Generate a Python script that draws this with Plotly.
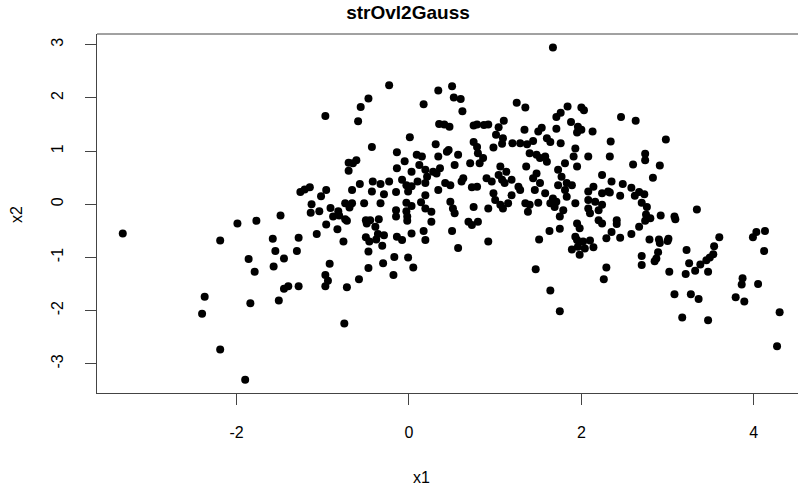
import plotly.graph_objects as go

# Sample coordinates of the two-cluster Gaussian overlap data
x1 = [
    -0.23, -0.47, -0.56, 0.17, -0.97, -0.59, 0.01, -0.43, -0.14,
    1.67, 0.34, 0.50, 0.52, 0.60, 0.62, 1.25, 1.35, 0.35, 0.41, 0.47, 0.75, 0.79, 0.87, 0.92,
    1.04, 1.10, 1.01, 1.09, 1.08, 0.98, 0.31, 0.46, 0.75, 0.79, 1.20, 1.29, 1.37, 1.44, 1.34,
    1.50, 1.54, 1.60, 1.64, 1.71, 1.71, 1.76, 1.84, 1.88, 1.96, 1.95, 2.00, 2.00, 2.03, 2.13,
    1.76, 1.93, 2.34,
    2.46, 2.63, 2.98,
    -3.32, -2.19, -1.99, -1.86,
    0.09, 0.15, -0.70, -0.61, -0.65, -0.70, -0.14, -0.05, 0.12, 0.03, 0.19, 0.21, -1.15, -1.21,
    -1.26, -0.96, -1.02, -0.57, -0.66, -0.42, -0.33, -0.23, -0.43, -0.29, -0.15, -0.08, -0.03,
    0.03, -0.01, 0.10, 0.19, 0.19, -1.13, -1.14, -1.04, -0.91, -0.82, -0.81, -0.74, -0.66,
    -0.69, -0.52, -0.33, -0.15, -0.15, -0.03, -0.03, 0.03, 0.14, 0.19, -0.88, -0.74, -0.72,
    -0.96, -0.83, -1.07, -0.76, -1.77, -1.49, -1.58, -1.28, -1.55, -1.30, -1.45, -1.57, -0.92,
    -0.50, -0.45, -0.35, -0.49, -0.39, -0.50, -0.46, -0.47, -0.36, -0.29, -0.38, -0.31, -0.14,
    -0.08, -0.02, -0.02, 0.03, 0.17, 0.19, -0.17, -0.01, -0.30, -0.47, 0.05,
    0.44, 0.34, 0.57, 0.80, 0.86, 0.82, 0.71, 0.53, 0.36, 0.28, 0.32, 0.42, 0.48, 0.34, 0.63,
    0.61, 0.73, 0.79, 0.90, 0.96, 1.06, 1.13, 1.04, 1.08, 1.19, 1.11, 0.98, 1.00, 1.06, 1.09,
    1.15, 1.19, 1.27, 1.29, 0.48, 0.51, 0.53, 0.75, 0.92, 0.26, 0.26, 0.69, 0.73, 0.80, 0.50,
    0.92, 0.57, 1.40, 1.48, 1.52, 1.58, 1.60, 1.36, 1.48, 1.44, 1.52, 1.46, 1.58, 1.67, 1.64,
    1.71, 1.69, 1.79, 1.75, 1.35, 1.40, 1.38, 1.50, 1.81, 1.95, 1.91, 2.08, 1.73, 1.77, 1.73,
    1.83, 1.89, 1.81, 1.83, 1.93, 2.24, 2.14, 2.08, 2.24, 2.31, 2.08, 2.16, 2.24, 2.08, 2.10,
    2.20, 2.20, 2.24, 1.95, 1.98, 2.29, 1.75, 1.63, 1.51, 1.93, 1.95, 2.02, 2.10, 1.96, 1.89,
    2.04, 2.14, 1.98, 2.29, 1.47,
    2.33, 2.74, 2.74, 2.60, 2.91, 2.83, 2.35, 2.48, 2.58, 2.67, 2.73, 2.62, 2.45, 2.33, 2.70,
    2.76, 3.34, 2.75, 2.80, 2.74, 2.92, 3.08, 3.09, 2.41, 2.41, 2.67, 2.35, 2.58, 2.45, 2.79,
    2.90, 2.91, 3.01, 3.00, 3.60, 4.03, 3.99, 4.13, 4.12, 3.22, 3.54, 3.53, 3.49, 3.45, 2.70,
    2.89, 2.87, 2.85, 2.70, 3.25, 3.38,
    3.02, 3.21, 3.32, 3.47, 3.87, 3.86, 4.05, 3.08, 3.27, 3.36, 3.79, 3.89, 4.30, 3.17, 3.47,
    4.27,
    1.64, 1.75, 2.26,
    -1.79, -1.84, -1.51, -1.45, -1.40, -1.28, -0.97, -0.94, -0.97, -0.72, -0.58, -0.18, -0.75,
    -2.37, -2.40, -2.19, -1.90,
]

x2 = [
    2.24, 1.99, 1.83, 1.88, 1.66, 1.56, 1.26, 1.08, 0.98,
    2.95, 2.14, 2.22, 2.01, 1.98, 1.75, 1.91, 1.82, 1.51, 1.50, 1.46, 1.48, 1.50, 1.49, 1.50,
    1.45, 1.57, 1.31, 1.24, 1.14, 1.07, 1.13, 1.02, 1.17, 1.08, 1.15, 1.15, 1.13, 1.19, 1.40,
    1.37, 1.44, 1.24, 1.17, 1.42, 1.64, 1.72, 1.84, 1.55, 1.46, 1.35, 1.40, 1.82, 1.77, 1.37,
    1.15, 1.05, 1.18,
    1.64, 1.57, 1.22,
    -0.55, -0.68, -0.36, -1.03,
    0.93, 0.90, 0.78, 0.83, 0.77, 0.63, 0.68, 0.81, 0.74, 0.61, 0.65, 0.52, 0.32, 0.28,
    0.23, 0.27, 0.15, 0.38, 0.27, 0.43, 0.38, 0.43, 0.24, 0.19, 0.23, 0.46, 0.36,
    0.34, 0.24, 0.43, 0.40, 0.17, 0.00, -0.16, -0.13, -0.07, -0.13, -0.21, 0.02, 0.02,
    -0.06, 0.02, 0.02, -0.11, -0.23, 0.03, -0.13, -0.03, 0.04, -0.08, -0.23, -0.28, -0.31,
    -0.38, -0.47, -0.56, -0.70, -0.31, -0.21, -0.65, -0.63, -0.88, -0.88, -1.02, -1.17, -1.12,
    -0.30, -0.30, -0.28, -0.36, -0.42, -0.62, -0.70, -0.89, -0.56, -0.58, -0.66, -0.78, -0.61,
    -0.67, -0.23, -0.31, -0.55, -0.50, -0.67, -0.99, -1.00, -1.11, -1.20, -1.19,
    0.99, 0.90, 0.93, 0.96, 0.87, 0.77, 0.77, 0.74, 0.68, 0.61, 0.58, 0.40, 0.36, 0.27, 0.49,
    0.43, 0.32, 0.33, 0.49, 0.43, 0.71, 0.61, 0.55, 0.46, 0.46, 0.40, 0.21, 0.08, -0.01, -0.08,
    0.02, 0.17, 0.33, 0.27, 0.05, -0.08, -0.17, -0.05, -0.08, -0.14, -0.33, -0.33, -0.39, -0.33, -0.50,
    -0.70, -0.82, 0.96, 0.93, 0.87, 0.90, 0.80, 0.71, 0.58, 0.49, 0.40, 0.27, 0.21, 0.11, 0.02,
    0.05, -0.05, -0.11, -0.23, 0.02, -0.01, -0.14, 0.03, 0.77, 0.71, 0.90, 0.90, 0.65, 0.52, 0.36,
    0.40, 0.36, 0.27, 0.14, 0.02, 0.55, 0.33, 0.24, 0.21, 0.24, 0.08, 0.05, -0.01, -0.08, -0.17,
    -0.11, -0.30, -0.36, -0.36, -0.45, -0.64, -0.46, -0.50, -0.66, -0.61, -0.67, -0.70, -0.68, -0.80, -0.85,
    -0.83, -0.81, -0.95, -1.19, -1.22,
    0.90, 0.95, 0.83, 0.75, 0.73, 0.50, 0.43, 0.38, 0.31, 0.23, 0.19, 0.16, 0.16, 0.22, 0.03,
    -0.05, -0.10, -0.19, -0.26, -0.31, -0.21, -0.23, -0.28, -0.30, -0.37, -0.42, -0.52, -0.56, -0.63, -0.66,
    -0.66, -0.73, -0.65, -0.69, -0.62, -0.52, -0.62, -0.50, -0.88, -0.86, -0.79, -0.94, -1.00, -1.05, -0.97,
    -0.90, -1.02, -1.07, -1.14, -1.11, -1.13,
    -1.27, -1.31, -1.25, -1.27, -1.39, -1.51, -1.50, -1.69, -1.69, -1.78, -1.75, -1.83, -2.03, -2.13, -2.18,
    -2.67,
    -1.62, -2.01, -1.41,
    -1.27, -1.86, -1.81, -1.59, -1.54, -1.54, -1.33, -1.44, -1.54, -1.56, -1.41, -1.33, -2.24,
    -1.74, -2.06, -2.73, -3.30,
]

x_ticks = [-2, 0, 2, 4]
y_ticks = [-3, -2, -1, 0, 1, 2, 3]

FONT = "Liberation Sans, Arial, Helvetica, sans-serif"
W, H = 798, 491
L, T, B = 97, 34, 98

fig = go.Figure(
    go.Scatter(
        x=x1, y=x2, mode="markers",
        marker=dict(color="black", size=8, line=dict(width=0)),
        hoverinfo="skip",
    )
)

axis_common = dict(
    ticks="outside", ticklen=11, tickwidth=1, tickcolor="#444",
    showline=True, linecolor="#444", linewidth=1,
    showgrid=False, zeroline=False,
    tickfont=dict(family=FONT, size=16, color="black"),
)

# plain hyphen-minus tick labels
fig.update_xaxes(range=[-3.619, 4.513], tickvals=x_ticks,
                 ticktext=[str(v) for v in x_ticks], ticklabelstandoff=14, **axis_common)
fig.update_yaxes(range=[-3.549, 3.203], tickvals=y_ticks,
                 ticktext=[str(v) for v in y_ticks], tickangle=-90,
                 ticklabelstandoff=16, **axis_common)

plot_h = H - T - B
plot_w = W - L

fig.update_layout(
    width=W, height=H,
    margin=dict(l=L, r=0, t=T, b=B, pad=0),
    plot_bgcolor="white", paper_bgcolor="white",
    showlegend=False,
    font=dict(family=FONT, size=16, color="black"),
    title=dict(
        text="strOvl2Gauss", xref="container", yref="container",
        x=408 / W, y=1 - 12 / H, xanchor="center", yanchor="middle",
        font=dict(family=FONT, size=19, color="black", weight="bold"),
    ),
    shapes=[
        dict(type="line", xref="paper", yref="paper", x0=0, x1=1, y0=1, y1=1,
             line=dict(color="#444", width=1)),
    ],
    annotations=[
        dict(text="x1", xref="paper", yref="paper",
             x=(421 - L) / plot_w, y=(H - B - 477) / plot_h,
             xanchor="center", yanchor="middle", showarrow=False,
             font=dict(family=FONT, size=16, color="black")),
        dict(text="x2", xref="paper", yref="paper",
             x=(17 - L) / plot_w, y=(H - B - 215) / plot_h, textangle=-90,
             xanchor="center", yanchor="middle", showarrow=False,
             font=dict(family=FONT, size=16, color="black")),
    ],
)

fig.write_html("out.html")
